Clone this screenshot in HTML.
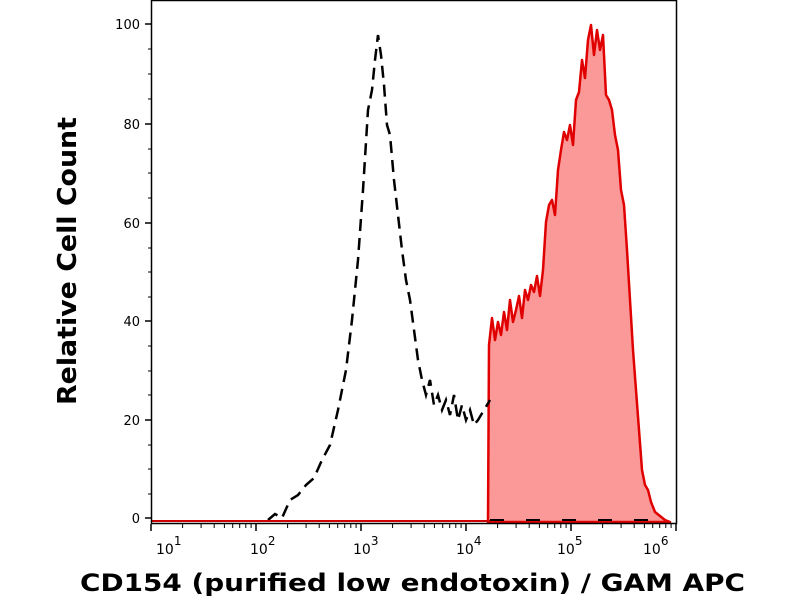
<!DOCTYPE html>
<html><head><style>body{margin:0;background:#fff}</style></head><body>
<svg width="800" height="600" xmlns="http://www.w3.org/2000/svg" style="display:block">
<rect width="800" height="600" fill="#fff"/>
<path d="M488,522 L489,345 L492,318 L495,340 L498,322 L501,335 L504,312 L507,330 L510,300 L513,322 L516,310 L519,296 L522,318 L525,290 L528,300 L531,285 L534,292 L537,276 L540,296 L543,270 L546,222 L549,205 L552,200 L555,215 L558,170 L561,150 L564,132 L567,140 L570,125 L573,145 L576,100 L579,92 L582,60 L585,78 L588,40 L591,25 L594,55 L597,30 L600,50 L603,35 L606,95 L609,100 L612,110 L615,135 L618,150 L621,190 L624,205 L627,250 L630,300 L633,350 L636,390 L639,430 L642,470 L645,485 L648,490 L651,502 L655,512 L660,516 L665,520 L670,522 Z" fill="#fb9999" stroke="#e00000" stroke-width="2.5" stroke-linejoin="round"/>
<path d="M268,520 L275,514 L282,518 L290,500 L298,495 L306,485 L314,478 L322,460 L330,445 L338,410 L346,370 L352,320 L358,260 L363,190 L368,110 L372,90 L375,60 L378,35 L381,55 L384,85 L387,125 L390,135 L394,180 L398,215 L402,250 L406,280 L410,300 L414,330 L418,360 L422,380 L426,395 L430,380 L434,405 L438,395 L442,410 L446,400 L450,415 L454,395 L458,420 L462,405 L466,420 L470,410 L474,425 L478,420 L484,410 L490,400" fill="none" stroke="#000" stroke-width="2.5" stroke-dasharray="12,7"/>
<path d="M490,520 L670,520" fill="none" stroke="#000" stroke-width="2" stroke-dasharray="14,22"/>
<line x1="152" y1="521" x2="490" y2="521" stroke="#c00" stroke-width="2"/>
<rect x="151.5" y="0.5" width="525" height="523" fill="none" stroke="#000" stroke-width="1.5"/>
<g stroke="#000" stroke-width="1.5">
<line x1="145" y1="24" x2="151" y2="24"/><line x1="145" y1="124" x2="151" y2="124"/><line x1="145" y1="223" x2="151" y2="223"/><line x1="145" y1="321" x2="151" y2="321"/><line x1="145" y1="420" x2="151" y2="420"/><line x1="145" y1="518" x2="151" y2="518"/>
<line x1="256" y1="524" x2="256" y2="531"/><line x1="361" y1="524" x2="361" y2="531"/><line x1="466" y1="524" x2="466" y2="531"/><line x1="571" y1="524" x2="571" y2="531"/><line x1="676" y1="524" x2="676" y2="531"/><line x1="151" y1="524" x2="151" y2="531"/>
</g>
<g stroke="#000" stroke-width="1">
<path d="M182.6,524v4M201.1,524v4M214.2,524v4M224.4,524v4M232.7,524v4M239.7,524v4M245.8,524v4M251.1,524v4
M287.6,524v4M306.1,524v4M319.2,524v4M329.4,524v4M337.7,524v4M344.7,524v4M350.8,524v4M356.1,524v4
M392.6,524v4M411.1,524v4M424.2,524v4M434.4,524v4M442.7,524v4M449.7,524v4M455.8,524v4M461.1,524v4
M497.6,524v4M516.1,524v4M529.2,524v4M539.4,524v4M547.7,524v4M554.7,524v4M560.8,524v4M566.1,524v4
M602.6,524v4M621.1,524v4M634.2,524v4M644.4,524v4M652.7,524v4M659.7,524v4M665.8,524v4M671.1,524v4
M148,49h3M148,74h3M148,99h3M148,149h3M148,173h3M148,198h3M148,248h3M148,272h3M148,297h3M148,346h3M148,371h3M148,395h3M148,445h3M148,469h3M148,494h3"/>
</g>
<g font-family="DejaVu Sans, sans-serif" font-size="13" text-anchor="end" fill="#000">
<text x="140" y="29">100</text><text x="140" y="129">80</text><text x="140" y="228">60</text><text x="140" y="326">40</text><text x="140" y="425">20</text><text x="140" y="523">0</text>
</g>
<g font-family="DejaVu Sans, sans-serif" font-size="14" fill="#000">
<text x="156" y="554">10<tspan font-size="12" dy="-9">1</tspan></text>
<text x="250" y="554">10<tspan font-size="12" dy="-9">2</tspan></text>
<text x="353" y="554">10<tspan font-size="12" dy="-9">3</tspan></text>
<text x="456" y="554">10<tspan font-size="12" dy="-9">4</tspan></text>
<text x="557" y="554">10<tspan font-size="12" dy="-9">5</tspan></text>
<text x="643" y="554">10<tspan font-size="12" dy="-9">6</tspan></text>
</g>
<text x="80" y="591" font-family="DejaVu Sans, sans-serif" font-weight="bold" font-size="24" textLength="665" lengthAdjust="spacingAndGlyphs">CD154 (purified low endotoxin) / GAM APC</text>
<text transform="translate(76,405) rotate(-90)" font-family="DejaVu Sans, sans-serif" font-weight="bold" font-size="26" textLength="288" lengthAdjust="spacingAndGlyphs">Relative Cell Count</text>
</svg>
</body></html>
